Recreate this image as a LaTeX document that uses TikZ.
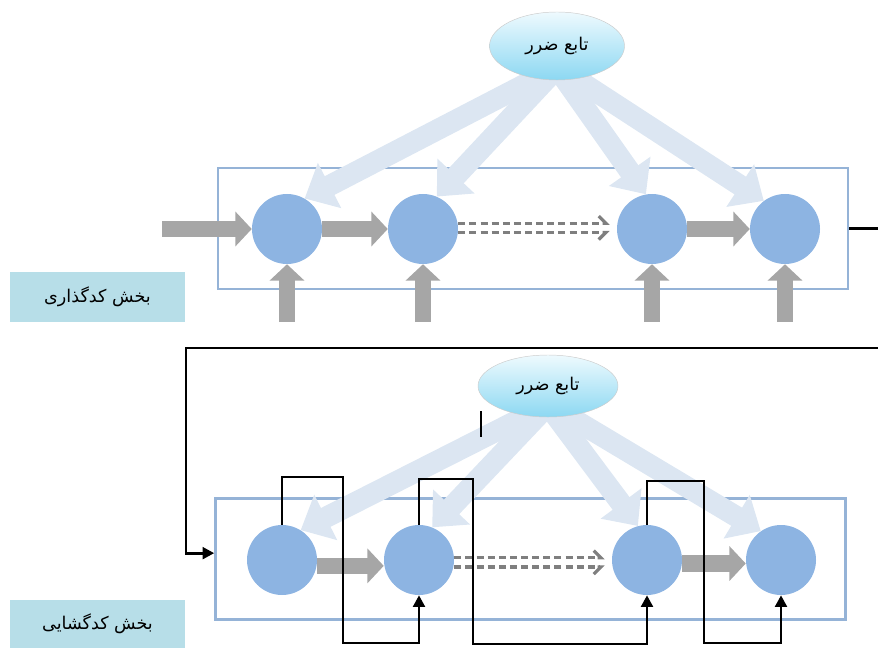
\documentclass[tikz,border=0pt]{standalone}
\usepackage{fontspec}
\newfontfamily\farsi[Script=Arabic]{DejaVu Sans}
\TeXXeTstate=1
\usetikzlibrary{shapes.geometric,arrows.meta,backgrounds}

\definecolor{cellblue}{HTML}{8DB4E2}
\definecolor{boxline}{HTML}{95B3D7}
\definecolor{flowgrey}{HTML}{A6A6A6}
\definecolor{dashgrey}{HTML}{7F7F7F}
\definecolor{lossarrow}{HTML}{DCE6F2}
\definecolor{labelfill}{HTML}{B7DEE8}
\definecolor{losstop}{HTML}{EEFAFE}
\definecolor{lossbot}{HTML}{8CD8F2}

\begin{document}
\begin{tikzpicture}[x=0.03cm, y=-0.03cm,
    cell/.style     = {circle, fill=cellblue, minimum size=2.1cm, inner sep=0pt},
    block/.style    = {draw=boxline, line width=2.1pt, minimum width=18.9cm, minimum height=3.64cm},
    lossfn/.style   = {ellipse, draw=black!20, top color=losstop, bottom color=lossbot,
                       inner sep=0pt, font=\farsi\fontsize{15}{18}\selectfont},
    tag/.style      = {fill=labelfill, minimum width=5.25cm, inner sep=0pt,
                       font=\farsi\fontsize{15}{18}\selectfont},
    greyarrow/.style= {flowgrey, line width=14pt, -{Triangle[length=14pt,width=29pt]}},
    lossflow/.style = {lossarrow, line width=18pt, -{Triangle[length=24pt,width=42pt]}},
    dashflow/.style = {dashgrey, line width=2.8pt, dash pattern=on 6pt off 3.5pt},
    loopline/.style = {black, line width=2.5pt, -{Triangle[length=10pt,width=10pt]}},
]
\useasboundingbox (0,0) rectangle (878,648);

% encoder
\begin{scope}[on background layer]
    \node[block] (encBox) at (533, 228.5) {};
    \node[block] (decBox) at (530.5, 559) {};
\end{scope}

\node[cell] (E1) at (287, 229) {};
\node[cell] (E2) at (423, 229) {};
\node[cell] (E3) at (652, 229) {};
\node[cell] (E4) at (785, 229) {};

\node[lossfn, minimum width=4.05cm, minimum height=2.04cm] (lossE) at (557, 46)
    {\beginR تابع ضرر\endR};

\node[tag, minimum height=1.5cm]  (encLabel) at (97.5, 297) {\beginR بخش کدگذاری\endR};

\coordinate (inE) at (162, 229);
\coordinate (uE1) at (287, 322);
\coordinate (uE2) at (423, 322);
\coordinate (uE3) at (652, 322);
\coordinate (uE4) at (785, 322);

\begin{scope}[on background layer]
    \draw[lossflow] ([xshift=-9pt, yshift=6pt]lossE.south) -- (E1.60);
    \draw[lossflow] ([xshift=-4pt, yshift=6pt]lossE.south) -- (E2.67);
    \draw[lossflow] ([xshift= 3pt, yshift=6pt]lossE.south) -- (E3.100);
    \draw[lossflow] ([xshift= 9pt, yshift=6pt]lossE.south) -- (E4.127);
\end{scope}

\draw[greyarrow] (inE) -- (E1);
\draw[greyarrow] (E1)  -- (E2);
\draw[greyarrow] (E3)  -- (E4);
\draw[greyarrow] (uE1) -- (E1);
\draw[greyarrow] (uE2) -- (E2);
\draw[greyarrow] (uE3) -- (E3);
\draw[greyarrow] (uE4) -- (E4);

\draw[dashflow, -{Straight Barb[left, length=6pt, width=12pt]}]
    ([yshift=5pt]E2.east)  -- ([xshift=-6pt, yshift=5pt]E3.west);
\draw[dashflow, -{Straight Barb[right, length=6pt, width=12pt]}]
    ([yshift=-3pt]E2.east) -- ([xshift=-6pt, yshift=-3pt]E3.west);

% decoder
\node[cell] (D1) at (282, 560) {};
\node[cell] (D2) at (419, 560) {};
\node[cell] (D3) at (647, 560) {};
\node[cell] (D4) at (781, 560) {};

\node[lossfn, minimum width=4.2cm, minimum height=1.86cm] (lossD) at (548, 386)
    {\beginR تابع ضرر\endR};

\node[tag, minimum height=1.44cm] (decLabel) at (97.5, 624) {\beginR بخش کدگشایی\endR};

\begin{scope}[on background layer]
    \draw[lossflow] ([xshift=-9pt, yshift=6pt]lossD.south) -- (D1.58);
    \draw[lossflow] ([xshift=-4pt, yshift=6pt]lossD.south) -- (D2.68);
    \draw[lossflow] ([xshift= 3pt, yshift=6pt]lossD.south) -- (D3.105);
    \draw[lossflow] ([xshift= 9pt, yshift=6pt]lossD.south) -- (D4.125);
\end{scope}

\draw[greyarrow] ([yshift=-5pt]D1.east) -- ([yshift=-5pt]D2.west);
\draw[greyarrow] ([yshift=-3pt]D3.east) -- ([yshift=-3pt]D4.west);

\draw[dashflow, -{Straight Barb[left, length=6pt, width=12pt]}]
    ([yshift=2pt]D2.east)  -- ([xshift=-6pt, yshift=2pt]D3.west);
\draw[dashflow, -{Straight Barb[right, length=6pt, width=12pt]}]
    ([yshift=-6pt]D2.east) -- ([xshift=-6pt, yshift=-6pt]D3.west);

% feedback wires
\coordinate (turnR) at (884, 348);
\coordinate (turnL) at (186, 348);
\draw[loopline] (encBox.east) -| (turnR) -- (turnL) |- ([yshift=5pt]decBox.west);

\coordinate (k1) at (343, 477);
\coordinate (j1) at (343, 643);
\coordinate (k2) at (473, 479);
\coordinate (j2) at (473, 644);
\coordinate (k3) at (704, 481);
\coordinate (j3) at (704, 643);
\draw[loopline] (D1.north) |- (k1) -- (j1) -| (D2.south);
\draw[loopline] (D2.north) |- (k2) -- (j2) -| (D3.south);
\draw[loopline] (D3.north) |- (k3) -- (j3) -| (D4.south);

\coordinate (tickA) at (481, 411);
\coordinate (tickB) at (481, 437);
\draw[black, line width=1.5pt] (tickA) -- (tickB);
\end{tikzpicture}
\end{document}
